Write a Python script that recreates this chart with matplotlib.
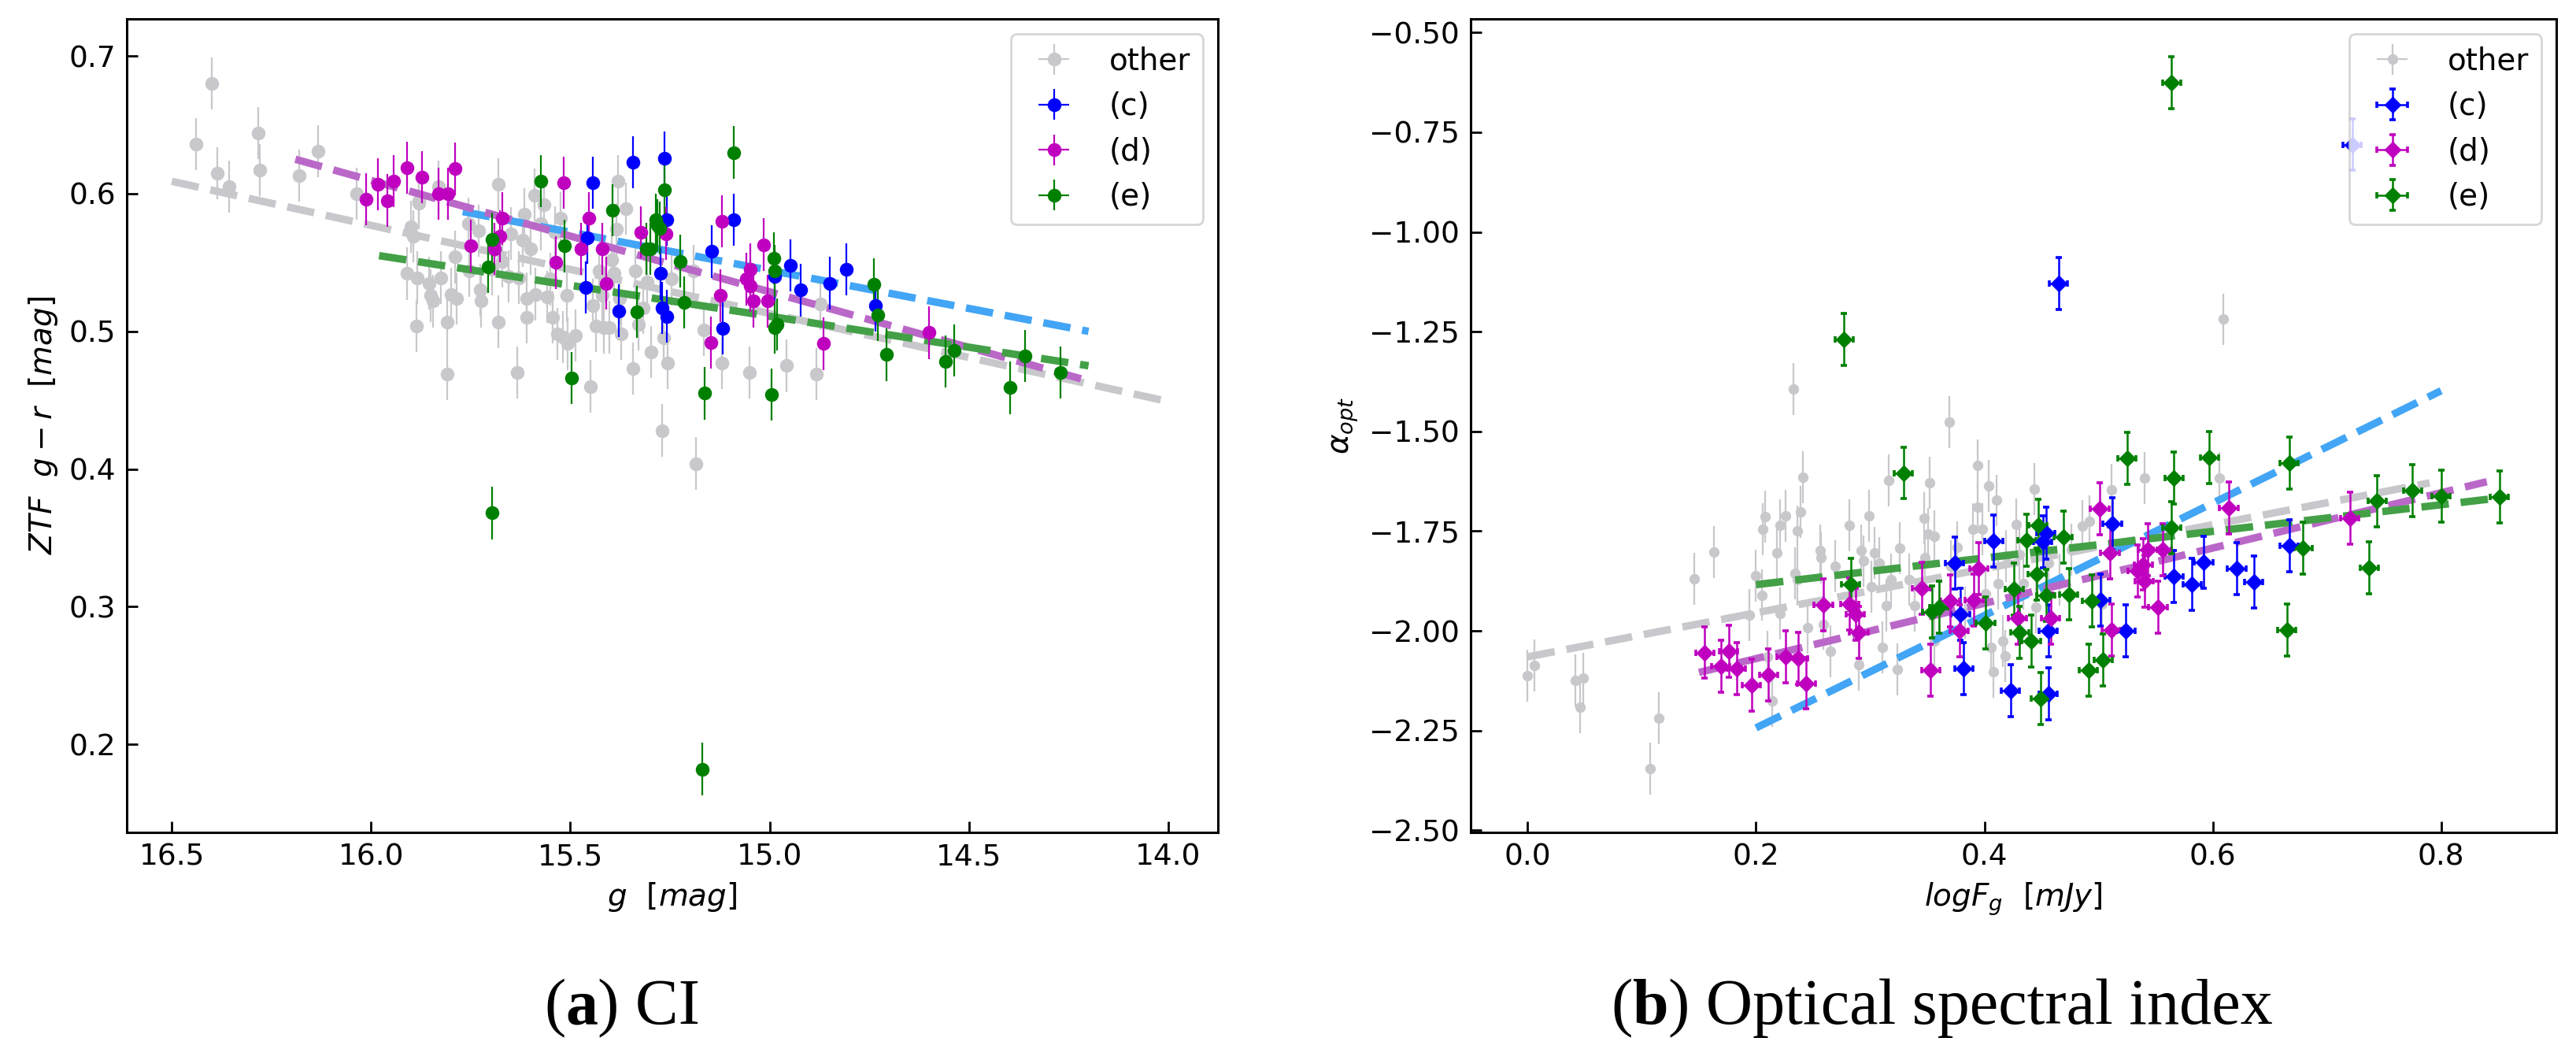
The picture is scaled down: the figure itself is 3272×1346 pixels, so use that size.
import matplotlib
matplotlib.use('Agg')
import matplotlib.pyplot as plt
import numpy as np

# ---- panel (a): colour index vs g magnitude ----
g_other = [16.44, 16.40, 16.385, 16.357, 16.284, 16.28, 16.18, 16.133, 16.036, 15.91,
           15.90, 15.895, 15.887, 15.885, 15.88, 15.88, 15.855, 15.85, 15.845, 15.83,
           15.825, 15.81, 15.81, 15.80, 15.79, 15.786, 15.756, 15.754, 15.73, 15.726,
           15.724, 15.696, 15.68, 15.68, 15.67, 15.655, 15.65, 15.633, 15.63, 15.62,
           15.615, 15.61, 15.61, 15.60, 15.59, 15.587, 15.575, 15.567, 15.558, 15.55,
           15.545, 15.539, 15.532, 15.524, 15.518, 15.508, 15.506, 15.488, 15.45, 15.444,
           15.436, 15.427, 15.42, 15.417, 15.403, 15.397, 15.39, 15.385, 15.381, 15.377,
           15.373, 15.36, 15.343, 15.337, 15.33, 15.317, 15.307, 15.297, 15.27, 15.265,
           15.257, 15.246, 15.19, 15.185, 15.165, 15.119, 15.05, 14.958, 14.883, 14.873]
ci_other = [0.636, 0.680, 0.615, 0.605, 0.644, 0.617, 0.613, 0.631, 0.600, 0.542,
            0.576, 0.569, 0.504, 0.539, 0.595, 0.593, 0.535, 0.526, 0.522, 0.605,
            0.539, 0.469, 0.507, 0.527, 0.554, 0.524, 0.578, 0.544, 0.573, 0.530,
            0.522, 0.545, 0.607, 0.507, 0.551, 0.540, 0.571, 0.470, 0.539, 0.566,
            0.585, 0.510, 0.524, 0.560, 0.599, 0.527, 0.578, 0.592, 0.525, 0.538,
            0.510, 0.572, 0.498, 0.582, 0.496, 0.526, 0.491, 0.497, 0.460, 0.519,
            0.504, 0.544, 0.526, 0.503, 0.503, 0.552, 0.542, 0.574, 0.609, 0.524,
            0.498, 0.589, 0.473, 0.544, 0.505, 0.517, 0.536, 0.485, 0.428, 0.495,
            0.477, 0.538, 0.544, 0.404, 0.501, 0.477, 0.470, 0.475, 0.469, 0.520]

g_c = [15.462, 15.458, 15.444, 15.379, 15.343, 15.274, 15.27, 15.264, 15.258, 15.258,
       15.145, 15.117, 15.09, 14.988, 14.948, 14.922, 14.849, 14.808, 14.734]
ci_c = [0.532, 0.568, 0.608, 0.515, 0.623, 0.542, 0.517, 0.626, 0.581, 0.511,
        0.558, 0.502, 0.581, 0.540, 0.548, 0.530, 0.535, 0.545, 0.519]

g_d = [16.012, 15.982, 15.96, 15.944, 15.909, 15.873, 15.83, 15.808, 15.79, 15.75,
       15.69, 15.677, 15.67, 15.536, 15.516, 15.474, 15.454, 15.42, 15.41, 15.323,
       15.26, 15.147, 15.123, 15.12, 15.058, 15.048, 15.048, 15.04, 15.016, 15.006,
       14.865, 14.6]
ci_d = [0.596, 0.607, 0.595, 0.609, 0.619, 0.612, 0.600, 0.600, 0.618, 0.562,
        0.560, 0.569, 0.582, 0.550, 0.608, 0.560, 0.582, 0.560, 0.535, 0.572,
        0.571, 0.492, 0.526, 0.580, 0.538, 0.545, 0.533, 0.522, 0.563, 0.522,
        0.491, 0.499]

g_e = [15.706, 15.696, 15.696, 15.575, 15.514, 15.498, 15.395, 15.333, 15.31, 15.30,
       15.286, 15.282, 15.276, 15.264, 15.224, 15.214, 15.17, 15.163, 15.09, 14.996,
       14.99, 14.988, 14.988, 14.982, 14.738, 14.728, 14.706, 14.558, 14.538, 14.397,
       14.36, 14.27]
ci_e = [0.547, 0.567, 0.368, 0.609, 0.562, 0.466, 0.588, 0.514, 0.560, 0.560,
        0.581, 0.577, 0.575, 0.603, 0.551, 0.521, 0.182, 0.455, 0.630, 0.454,
        0.553, 0.544, 0.503, 0.505, 0.534, 0.512, 0.483, 0.478, 0.486, 0.459,
        0.482, 0.470]

# linear fits (end points)
fit_a_other_x = [16.5, 14.0]
fit_a_other_y = [0.609, 0.449]
fit_a_c_x = [15.77, 14.2]
fit_a_c_y = [0.587, 0.500]
fit_a_d_x = [16.19, 14.2]
fit_a_d_y = [0.625, 0.464]
fit_a_e_x = [15.98, 14.2]
fit_a_e_y = [0.555, 0.475]

# ---- panel (b): optical spectral index vs log flux ----
f_other = [0.0, 0.006, 0.042, 0.046, 0.049, 0.107, 0.115, 0.146, 0.163, 0.194,
           0.2, 0.205, 0.206, 0.208, 0.21, 0.214, 0.218, 0.221, 0.221, 0.226,
           0.233, 0.234, 0.236, 0.236, 0.239, 0.241, 0.245, 0.256, 0.257, 0.259,
           0.265, 0.269, 0.282, 0.29, 0.292, 0.294, 0.299, 0.301, 0.304, 0.308,
           0.311, 0.314, 0.316, 0.318, 0.324, 0.326, 0.334, 0.339, 0.347, 0.348,
           0.351, 0.352, 0.356, 0.356, 0.36, 0.369, 0.371, 0.376, 0.383, 0.39,
           0.394, 0.394, 0.398, 0.401, 0.404, 0.406, 0.408, 0.411, 0.412, 0.416,
           0.418, 0.419, 0.428, 0.431, 0.434, 0.444, 0.445, 0.456, 0.466, 0.476,
           0.486, 0.492, 0.503, 0.511, 0.54, 0.606, 0.609]
a_other = [-2.112, -2.087, -2.124, -2.192, -2.119, -2.345, -2.219, -1.869, -1.803, -1.961,
           -1.861, -1.91, -1.745, -1.714, -2.065, -2.175, -1.804, -1.957, -1.735, -1.711,
           -1.393, -1.855, -1.872, -1.75, -1.702, -1.614, -1.991, -1.799, -1.816, -1.983,
           -2.051, -1.838, -1.736, -2.085, -1.799, -1.825, -1.711, -1.889, -1.804, -1.83,
           -2.041, -1.937, -1.622, -1.872, -2.097, -1.793, -1.872, -1.937, -1.718, -1.816,
           -1.757, -1.629, -1.762, -2.026, -1.944, -1.476, -1.837, -1.791, -1.954, -1.745,
           -1.69, -1.585, -1.745, -1.906, -1.636, -2.042, -2.102, -1.673, -1.881, -2.026,
           -2.063, -1.813, -1.733, -1.808, -1.881, -1.645, -1.94, -1.83, -1.872, -1.796,
           -1.738, -1.726, -1.932, -1.646, -1.617, -1.617, -1.219]

f_c = [0.374, 0.379, 0.382, 0.408, 0.423, 0.451, 0.454, 0.456, 0.456, 0.465,
       0.502, 0.512, 0.524, 0.566, 0.582, 0.592, 0.621, 0.636, 0.667, 0.722]
a_c = [-1.83, -1.958, -2.095, -1.774, -2.15, -1.776, -1.755, -2.158, -2.0, -1.129,
       -1.922, -1.731, -2.0, -1.864, -1.884, -1.828, -1.843, -1.878, -1.786, -0.781]

f_d = [0.155, 0.169, 0.176, 0.183, 0.196, 0.211, 0.226, 0.237, 0.244, 0.259,
       0.282, 0.287, 0.29, 0.345, 0.353, 0.37, 0.378, 0.391, 0.395, 0.429,
       0.458, 0.501, 0.51, 0.511, 0.534, 0.539, 0.54, 0.543, 0.552, 0.556,
       0.614, 0.72]
a_d = [-2.054, -2.088, -2.051, -2.095, -2.136, -2.111, -2.065, -2.068, -2.131, -1.935,
       -1.932, -1.958, -2.003, -1.893, -2.099, -1.925, -2.0, -1.923, -1.843, -1.969,
       -1.969, -1.694, -1.804, -1.998, -1.85, -1.833, -1.876, -1.796, -1.94, -1.796,
       -1.692, -1.718]

f_e = [0.277, 0.283, 0.329, 0.354, 0.36, 0.401, 0.426, 0.431, 0.437, 0.441,
       0.446, 0.447, 0.449, 0.454, 0.469, 0.474, 0.491, 0.494, 0.504, 0.525,
       0.564, 0.564, 0.566, 0.597, 0.665, 0.667, 0.679, 0.737, 0.744, 0.775,
       0.8, 0.851]
a_e = [-1.269, -1.884, -1.604, -1.952, -1.94, -1.98, -1.895, -2.003, -1.772, -2.026,
       -1.857, -1.735, -2.17, -1.911, -1.764, -1.908, -2.099, -1.925, -2.073, -1.568,
       -1.741, -0.626, -1.616, -1.565, -1.998, -1.58, -1.793, -1.842, -1.675, -1.648,
       -1.663, -1.665]

fit_b_other_x = [0.0, 0.79]
fit_b_other_y = [-2.065, -1.629]
fit_b_c_x = [0.2, 0.8]
fit_b_c_y = [-2.243, -1.398]
fit_b_d_x = [0.15, 0.84]
fit_b_d_y = [-2.104, -1.626]
fit_b_e_x = [0.2, 0.856]
fit_b_e_y = [-1.884, -1.665]

labels = ['other', '(c)', '(d)', '(e)']
pt_colors = ['#c8c8cc', 'blue', 'm', 'green']
fit_colors = ['#c8c8cc', '#42a5f5', '#ba68c8', '#43a047']

fig = plt.figure(figsize=(16.365, 6.73), dpi=200)
ax1 = fig.add_axes([0.0492, 0.2147, 0.4235, 0.7675])
ax2 = fig.add_axes([0.5707, 0.2147, 0.4214, 0.7675])

# panel a
ax1.errorbar(g_other, ci_other, yerr=0.019, xerr=0.004, fmt='o', ms=5.3, color=pt_colors[0],
             elinewidth=0.8, label=labels[0], zorder=1)
fits_a = [(fit_a_other_x, fit_a_other_y), (fit_a_c_x, fit_a_c_y),
          (fit_a_d_x, fit_a_d_y), (fit_a_e_x, fit_a_e_y)]
for (fx, fy), c in zip(fits_a, fit_colors):
    ax1.plot(fx, fy, '--', color=c, lw=3.4, zorder=2)
for gx, cy, c, lab in zip([g_c, g_d, g_e], [ci_c, ci_d, ci_e], pt_colors[1:], labels[1:]):
    ax1.errorbar(gx, cy, yerr=0.019, xerr=0.004, fmt='o', ms=5.3, color=c,
                 elinewidth=0.8, label=lab, zorder=3)

ax1.set_xlim(16.613, 13.875)
ax1.set_ylim(0.136, 0.727)
ax1.set_xticks([16.5, 16.0, 15.5, 15.0, 14.5, 14.0])
ax1.set_yticks([0.2, 0.3, 0.4, 0.5, 0.6, 0.7])
ax1.set_xlabel(r'$g\ \ [mag]$', fontsize=14)
ax1.set_ylabel(r'$ZTF\ \ g-r\ \ [mag]$', fontsize=14)

# panel b
ax2.errorbar(f_other, a_other, yerr=0.065, xerr=0.004, fmt='o', ms=3.8, color=pt_colors[0],
             elinewidth=0.8, label=labels[0], zorder=1)
fits_b = [(fit_b_other_x, fit_b_other_y), (fit_b_c_x, fit_b_c_y),
          (fit_b_d_x, fit_b_d_y), (fit_b_e_x, fit_b_e_y)]
for (fx, fy), c in zip(fits_b, fit_colors):
    ax2.plot(fx, fy, '--', color=c, lw=3.4, zorder=2)
for fx, ay, c, lab in zip([f_c, f_d, f_e], [a_c, a_d, a_e], pt_colors[1:], labels[1:]):
    ax2.errorbar(fx, ay, yerr=0.065, xerr=0.008, fmt='D', ms=4.4, color=c,
                 elinewidth=0.9, capsize=1.3, capthick=1.3, label=lab, zorder=3)

ax2.set_xlim(-0.05, 0.901)
ax2.set_ylim(-2.505, -0.466)
ax2.set_xticks([0.0, 0.2, 0.4, 0.6, 0.8])
ax2.set_yticks(np.arange(-2.5, -0.49, 0.25))
ax2.set_xlabel(r'$logF_g\ \ [mJy]$', fontsize=14)
ax2.set_ylabel(r'$\alpha_{opt}$', fontsize=14)

for ax in (ax1, ax2):
    ax.tick_params(direction='in', length=5, width=1.0, labelsize=13.5, pad=5)
    for sp in ax.spines.values():
        sp.set_linewidth(1.1)
    ax.legend(loc='upper right', fontsize=14)

# sub-captions, "(a)" with a bold letter
cap_font = dict(family='Liberation Serif', size=29.5)
for xc, tag, rest in [(0.2407, 'a', ' CI'), (0.7529, 'b', ' Optical spectral index')]:
    probe = fig.text(xc, 0.034, '(' + tag + ')' + rest, ha='center', va='baseline', **cap_font)
    fig.canvas.draw()
    x0 = probe.get_window_extent().x0 / fig.bbox.width
    probe.remove()
    t1 = fig.text(x0, 0.034, '(', ha='left', va='baseline', **cap_font)
    t2 = ax1.annotate(tag, xy=(1, 0), xycoords=t1, va='bottom', ha='left',
                      fontweight='bold', annotation_clip=False, **cap_font)
    ax1.annotate(')' + rest, xy=(1, 0), xycoords=t2, va='bottom', ha='left',
                 annotation_clip=False, **cap_font)

fig.savefig('out.png', dpi=200)
